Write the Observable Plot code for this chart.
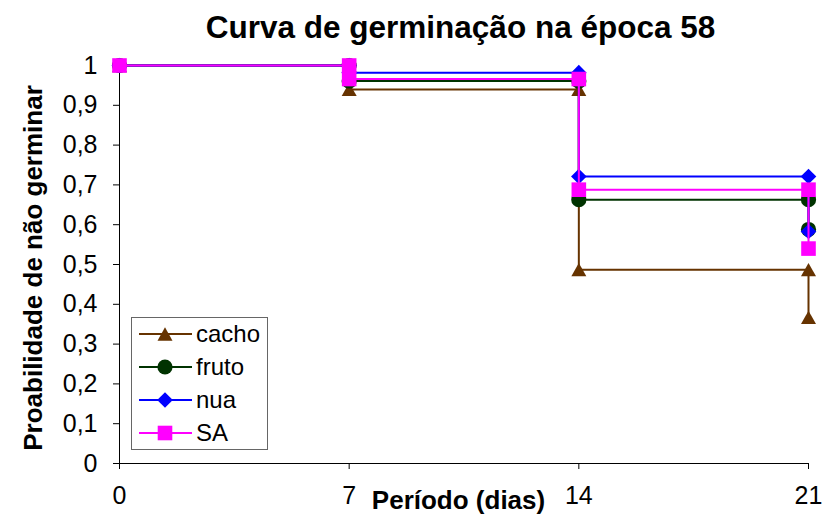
<!DOCTYPE html>
<html><head><meta charset="utf-8">
<script src="https://cdn.jsdelivr.net/npm/d3@7"></script>
<script src="https://cdn.jsdelivr.net/npm/@observablehq/plot@0.6"></script>
<style>
body{margin:0;background:#fff;font-family:"Liberation Sans",Arial,sans-serif;}
#wrap{position:relative;width:822px;height:518px;overflow:hidden;}
#legend{position:absolute;left:131px;top:317px;}
</style></head><body><div id="wrap"></div>
<script>
// ---- data ----
const days = [0, 7, 14, 21];
const seriesNames = ["cacho", "fruto", "nua", "SA"];
const cacho = [1, 0.94, 0.487, 0.367];
const fruto = [1, 0.961, 0.663, 0.588];
const nua = [1, 0.982, 0.721, 0.583];
const SA = [1, 0.966, 0.688, 0.54];
const seriesValues = [cacho, fruto, nua, SA];
const colors = ["#663300", "#003300", "#0000FF", "#FF00FF"];
const yTicks = [0, 0.1, 0.2, 0.3, 0.4, 0.5, 0.6, 0.7, 0.8, 0.9, 1];
const yTickLabels = ["0", "0,1", "0,2", "0,3", "0,4", "0,5", "0,6", "0,7", "0,8", "0,9", "1"];
const xTicks = [0, 7, 14, 21];
const xTickLabels = ["0", "7", "14", "21"];
const title = "Curva de germinação na época 58";
const xLabel = "Período (dias)";
const yLabel = "Proabilidade de não germinar";

// ---- marker shapes (size = PI*r^2, half extent = r) ----
const ext = s => Math.sqrt(s / Math.PI);
const symTriangle = {draw(c, s){const a = ext(s), h = a * 0.89; c.moveTo(0, -h); c.lineTo(a, h); c.lineTo(-a, h); c.closePath();}};
const symCircle = {draw(c, s){const a = ext(s); c.moveTo(a, 0); c.arc(0, 0, a, 0, 2 * Math.PI);}};
const symDiamond = {draw(c, s){const a = ext(s); c.moveTo(0, -a); c.lineTo(a, 0); c.lineTo(0, a); c.lineTo(-a, 0); c.closePath();}};
const symSquare = {draw(c, s){const a = ext(s); c.rect(-a, -a, 2 * a, 2 * a);}};
const symbols = [symTriangle, symCircle, symDiamond, symSquare];
const markerR = [7.5, 7.6, 7.8, 7.3];

// step (survival) vertices from the per-day values
function stepPoints(vals, name) {
  const pts = [{day: days[0], p: vals[0], series: name}];
  for (let i = 1; i < days.length; i++) {
    pts.push({day: days[i], p: vals[i - 1], series: name});
    pts.push({day: days[i], p: vals[i], series: name});
  }
  return pts;
}

const marks = [];
seriesNames.forEach((name, k) => {
  const pts = stepPoints(seriesValues[k], name);
  marks.push(Plot.line(pts, {x: "day", y: "p", stroke: colors[k], strokeWidth: 2}));
  marks.push(Plot.dot(pts, {x: "day", y: "p", symbol: symbols[k], r: markerR[k], fill: colors[k], stroke: "none"}));
});

const chart = Plot.plot({
  width: 822,
  height: 518,
  marginLeft: 119,
  marginRight: 14,
  marginTop: 65,
  marginBottom: 55,
  style: {fontFamily: "'Liberation Sans', Arial, sans-serif", fontSize: "25px", color: "black", background: "white", overflow: "visible"},
  x: {domain: [0, 21]},
  y: {domain: [0, 1]},
  marks: [
    Plot.axisY({ticks: yTicks, tickSize: 6, tickPadding: 16, tickFormat: d => yTickLabels[Math.round(d * 10)], label: null, fontSize: 25}),
    Plot.axisX({ticks: xTicks, tickSize: 6, tickPadding: 17, tickFormat: d => xTickLabels[xTicks.indexOf(d)], label: null, fontSize: 25}),
    Plot.ruleX([0], {stroke: "black"}),
    Plot.ruleY([0], {stroke: "black"}),
    ...marks,
    Plot.text([title], {frameAnchor: "top", textAnchor: "middle", lineAnchor: "middle", dy: -38, dx: -3.5, fontSize: 31.5, fontWeight: "bold", text: d => d}),
    Plot.text([xLabel], {frameAnchor: "bottom", textAnchor: "middle", lineAnchor: "middle", dy: 37, dx: -5.5, fontSize: 26, fontWeight: "bold", text: d => d}),
    Plot.text([yLabel], {frameAnchor: "left", textAnchor: "middle", lineAnchor: "middle", dx: -85.5, dy: 3.5, rotate: -90, fontSize: 26, fontWeight: "bold", text: d => d})
  ]
});
const wrap = document.getElementById("wrap");
wrap.appendChild(chart);

// ---- legend ----
const leg = d3.select(wrap).append("div").attr("id", "legend")
  .append("svg").attr("width", 137).attr("height", 133)
  .style("font-family", "'Liberation Sans', Arial, sans-serif");
leg.append("rect").attr("x", 0.5).attr("y", 0.5).attr("width", 136).attr("height", 132)
  .attr("fill", "white").attr("stroke", "#666").attr("stroke-width", 1);
seriesNames.forEach((name, k) => {
  const g = leg.append("g").attr("transform", `translate(0,${17 + k * 33})`);
  g.append("line").attr("x1", 8).attr("x2", 61).attr("stroke", colors[k]).attr("stroke-width", 2);
  g.append("path").attr("transform", "translate(34,0)")
    .attr("d", d3.symbol(symbols[k], Math.PI * markerR[k] * markerR[k])()).attr("fill", colors[k]);
  g.append("text").attr("x", 65).attr("dy", "0.35em").attr("font-size", 24).text(name);
});
</script>
</body></html>
